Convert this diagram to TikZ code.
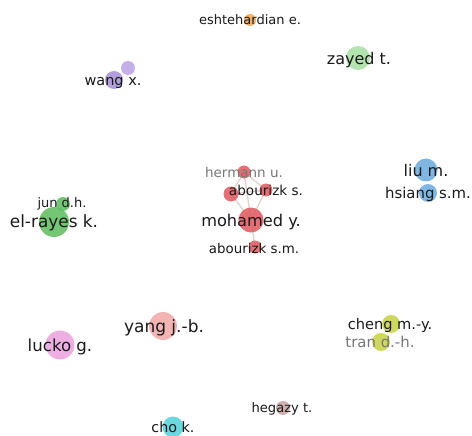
\documentclass[tikz,border=0pt]{standalone}
\usepackage{fontspec}
\setmainfont{DejaVu Sans}
\definecolor{cOrange}{HTML}{EFA24E}
\definecolor{cZayed}{HTML}{A6DFA0}
\definecolor{cWang}{HTML}{A58ED6}
\definecolor{cWangB}{HTML}{B9A3E8}
\definecolor{cRed}{HTML}{E0575F}
\definecolor{cBlue}{HTML}{6AAADE}
\definecolor{cGreen}{HTML}{5CBD5E}
\definecolor{cYang}{HTML}{F2A9A6}
\definecolor{cLucko}{HTML}{EAA2DC}
\definecolor{cYel}{HTML}{C6D042}
\definecolor{cHeg}{HTML}{C6A4A2}
\definecolor{cCho}{HTML}{52D2DA}
\definecolor{cEdge}{HTML}{DDD2CE}
\definecolor{cTxt}{HTML}{1A1A1A}
\definecolor{cGray}{HTML}{777777}
\tikzset{
  dot/.style={circle, inner sep=0pt, minimum size=#1, fill opacity=0.85, draw=none},
  lbl/.style={inner sep=0pt, font=\fontsize{#1}{#1}\selectfont, text height=0.76*#1pt, text depth=0pt, text=cTxt},
  edge/.style={draw=cEdge, line width=1.3pt}
}
\begin{document}
\begin{tikzpicture}[x=1pt,y=-1pt]
\useasboundingbox[fill=white] (0,0) rectangle (472,436);
% red cluster edges
\coordinate (hermannC) at (244,172);
\coordinate (anonC) at (231,194);
\coordinate (abourizkC) at (266,190);
\coordinate (mohamedC) at (251,220);
\coordinate (abourizksmC) at (255,247);
\draw[edge] (hermannC) -- (mohamedC);
\draw[edge] (hermannC) -- (anonC);
\draw[edge] (hermannC) -- (abourizkC);
\draw[edge] (anonC) -- (mohamedC);
\draw[edge] (anonC) -- (abourizkC);
\draw[edge] (abourizkC) -- (mohamedC);
\draw[edge] (mohamedC) -- (abourizksmC);
% circles
\node[dot=12pt, fill=cOrange] (eshtehardian) at (250,20) {};
\node[dot=24pt, fill=cZayed] (zayed) at (358,58) {};
\node[dot=14pt, fill=cWangB] (wangb) at (128,68) {};
\node[dot=18pt, fill=cWang] (wang) at (114,80) {};
\node[dot=13pt, fill=cRed] (hermann) at (hermannC) {};
\node[dot=15pt, fill=cRed] (anon) at (anonC) {};
\node[dot=13pt, fill=cRed] (abourizk) at (abourizkC) {};
\node[dot=25pt, fill=cRed] (mohamed) at (mohamedC) {};
\node[dot=13pt, fill=cRed] (abourizksm) at (abourizksmC) {};
\node[dot=23pt, fill=cBlue] (liu) at (426,170) {};
\node[dot=18pt, fill=cBlue] (hsiang) at (428,193) {};
\node[dot=14pt, fill=cGreen] (jun) at (63,204) {};
\node[dot=30pt, fill=cGreen] (elrayes) at (54,222) {};
\node[dot=28pt, fill=cYang] (yang) at (163,326) {};
\node[dot=29pt, fill=cLucko] (lucko) at (60,345) {};
\node[dot=18pt, fill=cYel] (cheng) at (391,324) {};
\node[dot=18pt, fill=cYel] (tran) at (381,342) {};
\node[dot=14pt, fill=cHeg] (hegazy) at (283,408) {};
\node[dot=21pt, fill=cCho] (cho) at (173,427) {};
% labels
\node[lbl=13] (eshtehardianL) at (250,20) {eshtehardian e.};
\node[lbl=16] (zayedL) at (359,58) {zayed t.};
\node[lbl=14.5] (wangL) at (113,80) {wang x.};
\node[lbl=13.5, text=cGray] (hermannL) at (244,172) {hermann u.};
\node[lbl=13.6] (abourizkL) at (266,190) {abourizk s.};
\node[lbl=16.2] (mohamedL) at (251,220) {mohamed y.};
\node[lbl=13.4] (abourizksmL) at (254,248) {abourizk s.m.};
\node[lbl=16] (liuL) at (426,170) {liu m.};
\node[lbl=14.9] (hsiangL) at (428,193) {hsiang s.m.};
\node[lbl=13] (junL) at (62,203) {jun d.h.};
\node[lbl=16.9] (elrayesL) at (54,221) {el-rayes k.};
\node[lbl=17] (yangL) at (164,326) {yang j.-b.};
\node[lbl=16.6] (luckoL) at (60,345) {lucko g.};
\node[lbl=14.6] (chengL) at (390,324) {cheng m.-y.};
\node[lbl=14.9, text=cGray] (tranL) at (380,342) {tran d.-h.};
\node[lbl=13.1] (hegazyL) at (282,408) {hegazy t.};
\node[lbl=14.3] (choL) at (173,427) {cho k.};
\end{tikzpicture}
\end{document}
